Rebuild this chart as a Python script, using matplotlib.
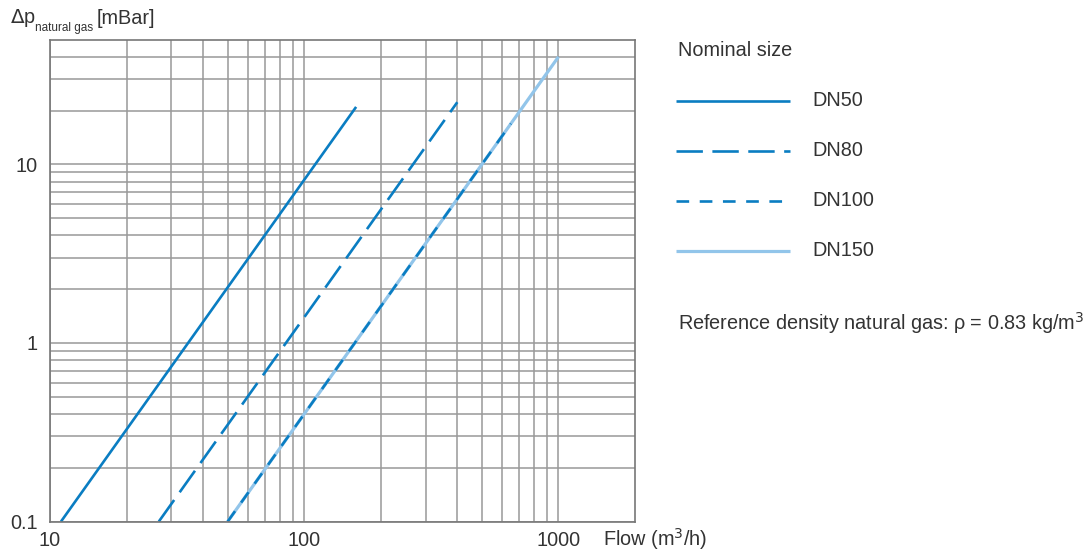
import numpy as np
import matplotlib.pyplot as plt
from matplotlib.ticker import FixedLocator, NullFormatter

plt.rcParams['font.family'] = ['Liberation Sans', 'DejaVu Sans']

# pressure loss curves, dp = k * Q^2, read at both ends
dn50_q = [11.05, 160]
dn50_dp = [0.1, 20.96]
dn80_q = [26.8, 400]
dn80_dp = [0.1, 22.3]
dn100_q = [50, 650]
dn100_dp = [0.1, 16.9]
dn150_q = [50, 1000]
dn150_dp = [0.1, 40]

sizes = ['DN50', 'DN80', 'DN100', 'DN150']
x_ticks = [10, 100, 1000]
x_labels = ['10', '100', '1000']
y_ticks = [0.1, 1, 10]
y_labels = ['0.1', '1', '10']

dark = '#0a7dc2'
light = '#92c5ea'
grid_col = '#999999'
txt = '#333333'
fs = 14.3


def curve(q, dp, n=50):
    # dp grows with the square of the flow
    qq = np.geomspace(q[0], q[1], n)
    return qq, dp[0] * (qq / q[0]) ** 2


fig = plt.figure(figsize=(10.87, 5.51), dpi=100)
ax = fig.add_axes([50 / 1087, 1 - 521.5 / 551, 585 / 1087, (521.5 - 39.5) / 551])
ax.set_xscale('log')
ax.set_yscale('log')
ax.set_xlim(10, 2000)
ax.set_ylim(0.1, 50)

minor_x = [m * 10 ** e for e in range(1, 4) for m in range(2, 10) if m * 10 ** e < 2000]
minor_y = [m * 10 ** e for e in range(-1, 2) for m in range(2, 10) if m * 10 ** e < 50]
ax.xaxis.set_minor_locator(FixedLocator(minor_x))
ax.yaxis.set_minor_locator(FixedLocator(minor_y))
ax.xaxis.set_minor_formatter(NullFormatter())
ax.yaxis.set_minor_formatter(NullFormatter())
ax.set_xticks(x_ticks, x_labels)
ax.set_yticks(y_ticks, y_labels)
ax.grid(True, which='both', color=grid_col, lw=1.1)
ax.tick_params(which='both', length=0, labelsize=fs, colors=txt)
ax.tick_params(axis='x', pad=7)
ax.tick_params(axis='y', pad=9)
for s in ax.spines.values():
    s.set_color('#777777')
    s.set_linewidth(1.2)
ax.set_axisbelow(True)

lw = 1.9
q, dp = curve(dn150_q, dn150_dp)
ax.plot(q, dp, color=light, lw=lw + 0.4, solid_capstyle='butt')
q, dp = curve(dn50_q, dn50_dp)
ax.plot(q, dp, color=dark, lw=lw, solid_capstyle='butt')
q, dp = curve(dn80_q, dn80_dp)
ax.plot(q, dp, color=dark, lw=lw, dashes=(10, 3.6), dash_capstyle='butt')
q, dp = curve(dn100_q, dn100_dp)
ax.plot(q, dp, color=dark, lw=lw, dashes=(4.8, 4), dash_capstyle='butt')

fig.text(10 / 1087, 1 - 18 / 551, r'$\Delta$p', fontsize=fs, color=txt, va='center')
fig.text(35 / 1087, 1 - 28 / 551, 'natural gas', fontsize=8.5, color=txt, va='center')
fig.text(97 / 1087, 1 - 18 / 551, '[mBar]', fontsize=fs, color=txt, va='center')
fig.text(603 / 1087, 1 - 539 / 551, 'Flow (m$^3$/h)', fontsize=fs, color=txt, va='center')

# legend drawn by hand on the right
fig.text(678 / 1087, 1 - 51 / 551, 'Nominal size', fontsize=fs, color=txt, va='center')
styles = [dict(color=dark), dict(color=dark, dashes=(10, 3.6)),
          dict(color=dark, dashes=(4.8, 4)), dict(color=light)]
for i, (name, st) in enumerate(zip(sizes, styles)):
    yy = 1 - (100.5 + 50 * i) / 551
    fig.add_artist(plt.Line2D([676 / 1087, 790 / 1087], [yy, yy], lw=lw + (0.4 if i == 3 else 0),
                              solid_capstyle='butt', dash_capstyle='butt', **st))
    fig.text(812 / 1087, yy, name, fontsize=fs, color=txt, va='center')
fig.text(678 / 1087, 1 - 323 / 551, 'Reference density natural gas: ρ = 0.83 kg/m$^3$',
         fontsize=fs, color=txt, va='center')

fig.savefig('out.png', dpi=100)
